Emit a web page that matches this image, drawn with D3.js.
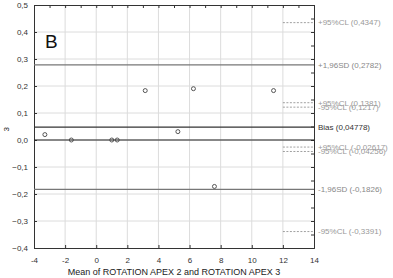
<!DOCTYPE html>
<html>
<head>
<meta charset="utf-8">
<script src="https://cdn.jsdelivr.net/npm/d3@7"></script>
<style>
  body { margin: 0; background: #fff; }
  svg text { font-family: "Liberation Sans", Arial, sans-serif; }
</style>
</head>
<body>
<svg width="393" height="278"></svg>
<script>
const meanVals = [-3.3, -1.6, 1.0, 1.35, 3.15, 5.25, 6.25, 7.6, 11.4];
const diffVals = [0.02, 0.0, 0.0, 0.0, 0.183, 0.031, 0.19, -0.172, 0.183];

const xTicks = [-4, -2, 0, 2, 4, 6, 8, 10, 12, 14];
const yTicks = [-0.4, -0.3, -0.2, -0.1, 0.0, 0.1, 0.2, 0.3, 0.4, 0.5];

const limitNames = ["+1,96SD", "Bias", "-1,96SD"];
const limitVals = [0.2782, 0.04778, -0.1826];

const clNames = ["+95%CL", "+95%CL", "-95%CL", "+95%CL", "-95%CL", "-95%CL"];
const clVals = [0.4347, 0.1381, 0.1217, -0.02617, -0.04256, -0.3391];

const svg = d3.select("svg");
const margin = { left: 34, right: 79, top: 5, bottom: 30 };
const width = +svg.attr("width");
const height = +svg.attr("height");

const x = d3.scaleLinear().domain([-4, 14]).range([margin.left, width - margin.right]);
const y = d3.scaleLinear().domain([-0.4, 0.5]).range([height - margin.bottom, margin.top]);

const fmt = v => d3.format(".1f")(v).replace(".", ",").replace("-0,0", "0,0");
const fmtNum = v => String(v).replace(".", ",");

// grid
svg.append("g").selectAll("line.gx")
    .data(xTicks.slice(1, -1))
    .join("line")
    .attr("x1", d => x(d)).attr("x2", d => x(d))
    .attr("y1", y(0.5)).attr("y2", y(-0.4))
    .attr("stroke", "#dcdcdc").attr("stroke-width", 1);
svg.append("g").selectAll("line.gy")
    .data(yTicks.slice(1, -1))
    .join("line")
    .attr("x1", x(-4)).attr("x2", x(14))
    .attr("y1", d => y(d)).attr("y2", d => y(d))
    .attr("stroke", "#dcdcdc").attr("stroke-width", 1);

// axes with inward ticks
svg.append("g")
    .attr("transform", `translate(0,${y(-0.4)})`)
    .call(d3.axisBottom(x).tickValues(xTicks).tickSize(-3).tickPadding(9).tickFormat(d => d));
svg.append("g")
    .attr("transform", `translate(${x(-4)},0)`)
    .call(d3.axisLeft(y).tickValues(yTicks).tickSize(-3).tickPadding(6).tickFormat(fmt));
svg.append("g")
    .attr("transform", `translate(${x(14)},0)`)
    .call(d3.axisRight(y).tickValues(d3.range(-0.4, 0.51, 0.05)).tickSize(-3).tickFormat(""));
svg.append("g")
    .attr("transform", `translate(0,${y(0.5)})`)
    .call(d3.axisTop(x).tickValues(d3.range(-4, 14.1, 1)).tickSize(-3).tickFormat(""));

svg.selectAll(".domain").attr("stroke", "#333");
svg.selectAll(".tick line").attr("stroke", "#333");
svg.selectAll(".tick text").attr("font-size", 8).attr("fill", "#333");

// zero line
svg.append("line")
    .attr("x1", x(-4)).attr("x2", x(14))
    .attr("y1", y(0)).attr("y2", y(0))
    .attr("stroke", "#222").attr("stroke-width", 1);

// bias and limits
svg.append("g").selectAll("line")
    .data(limitVals)
    .join("line")
    .attr("x1", x(-4)).attr("x2", x(14))
    .attr("y1", d => y(d)).attr("y2", d => y(d))
    .attr("stroke", (d, i) => i === 1 ? "#333" : "#777")
    .attr("stroke-width", 1.2);

// confidence limits, dashed
svg.append("g").selectAll("line")
    .data(clVals)
    .join("line")
    .attr("x1", x(12)).attr("x2", x(14))
    .attr("y1", d => y(d)).attr("y2", d => y(d))
    .attr("stroke", "#888").attr("stroke-width", 0.8)
    .attr("stroke-dasharray", "2,1.5");

// right side labels
const labels = limitVals.map((v, i) => ({ v, t: `${limitNames[i]} (${fmtNum(v)})`, c: i === 1 ? "#333" : "#888" }))
    .concat(clVals.map((v, i) => ({ v, t: `${clNames[i]} (${fmtNum(v)})`, c: "#999" })));
svg.append("g").selectAll("text")
    .data(labels)
    .join("text")
    .attr("x", x(14) + 4)
    .attr("y", d => y(d.v))
    .attr("dy", "0.35em")
    .attr("font-size", 8)
    .attr("fill", d => d.c)
    .text(d => d.t);

// points
svg.append("g").selectAll("circle")
    .data(meanVals.map((m, i) => [m, diffVals[i]]))
    .join("circle")
    .attr("cx", d => x(d[0]))
    .attr("cy", d => y(d[1]))
    .attr("r", 2)
    .attr("fill", "none")
    .attr("stroke", "#444")
    .attr("stroke-width", 0.9);

// panel letter
svg.append("text")
    .attr("x", x(-3.3)).attr("y", y(0.34))
    .attr("font-size", 19).attr("fill", "#111")
    .text("B");

// axis titles
svg.append("text")
    .attr("x", (x(-4) + x(14)) / 2).attr("y", height - 3)
    .attr("text-anchor", "middle")
    .attr("font-size", 9).attr("fill", "#222")
    .text("Mean of ROTATION APEX 2 and ROTATION APEX 3");
svg.append("text")
    .attr("transform", `translate(9,${y(0.04)}) rotate(-90)`)
    .attr("text-anchor", "middle")
    .attr("font-size", 8).attr("fill", "#222")
    .text("3");
</script>
</body>
</html>
